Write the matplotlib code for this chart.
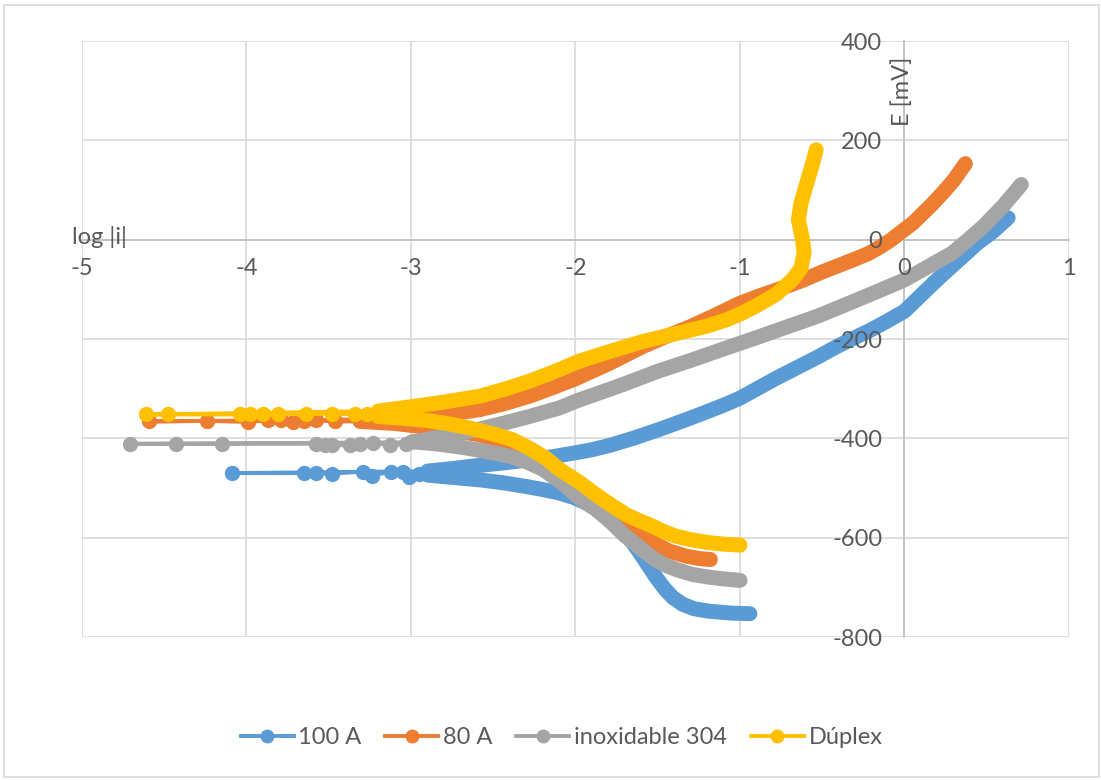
import matplotlib
matplotlib.use('Agg')
import matplotlib.pyplot as plt
from matplotlib.lines import Line2D
from matplotlib.patches import Rectangle

plt.rcParams['font.family'] = ['Lato', 'DejaVu Sans']
plt.rcParams['axes.unicode_minus'] = False

# Each polarization curve: cathodic branch (from high current back to Ecorr),
# sparse points around Ecorr, anodic branch (from Ecorr up to high current).

# 100 A
a100_cat_logi = [-0.94, -1.05, -1.19, -1.28, -1.35, -1.41, -1.46, -1.51, -1.56, -1.61, -1.66, -1.72,
                 -1.78, -1.85, -1.93, -2.01, -2.10, -2.20, -2.30, -2.43, -2.57, -2.77, -2.90]
a100_cat_E = [-753, -752, -748, -743, -734, -720, -702, -680, -655, -630, -607, -584,
              -565, -547, -531, -519, -510, -503, -497, -490, -484, -478, -474]
a100_dot_logi = [-2.95, -3.01, -3.05, -3.12, -3.24, -3.29, -3.48, -3.58, -3.65, -4.09]
a100_dot_E = [-472, -477, -468, -467, -475, -467, -471, -470, -470, -470]
a100_an_logi = [-2.90, -2.75, -2.60, -2.45, -2.30, -2.14, -2.00, -1.90, -1.79, -1.65, -1.49, -1.34,
                -1.19, -1.09, -1.00, -0.89, -0.78, -0.65, -0.52, -0.41, -0.30, -0.20, -0.10, 0.00,
                0.10, 0.21, 0.33, 0.44, 0.54, 0.63]
a100_an_E = [-466, -461, -455, -450, -444, -437, -429, -423, -414, -400, -382, -364,
             -345, -332, -319, -299, -279, -257, -235, -215, -197, -181, -163, -144,
             -112, -77, -41, -8, 17, 44]

# 80 A
a80_cat_logi = [-1.18, -1.25, -1.33, -1.43, -1.50, -1.55, -1.61, -1.67, -1.73, -1.79, -1.86, -1.94,
                -2.06, -2.18, -2.30, -2.46, -2.60, -2.75, -2.89, -3.10, -3.31]
a80_cat_E = [-644, -642, -637, -627, -615, -604, -588, -570, -553, -537, -520, -503,
             -472, -443, -420, -403, -392, -384, -378, -370, -366]
a80_dot_logi = [-3.46, -3.58, -3.65, -3.72, -3.79, -3.87, -3.99, -4.24, -4.59]
a80_dot_E = [-366, -364, -365, -368, -364, -364, -367, -365, -366]
a80_an_logi = [-3.30, -3.10, -2.89, -2.74, -2.58, -2.43, -2.28, -2.14, -2.00, -1.80, -1.59, -1.45,
               -1.30, -1.15, -1.00, -0.88, -0.75, -0.62, -0.50, -0.40, -0.30, -0.22, -0.15, -0.08,
               -0.03, 0.05, 0.17, 0.24, 0.30, 0.37]
a80_an_E = [-362, -360, -355, -350, -342, -330, -315, -298, -280, -250, -215, -195,
            -175, -152, -128, -113, -98, -82, -65, -52, -39, -28, -15, 0,
            13, 33, 72, 97, 120, 153]

# inoxidable 304
ss_cat_logi = [-1.00, -1.10, -1.20, -1.29, -1.38, -1.45, -1.52, -1.58, -1.63, -1.70, -1.79, -1.88,
               -1.95, -2.00, -2.08, -2.20, -2.30, -2.40, -2.55, -2.69, -2.85, -2.99]
ss_cat_E = [-686, -683, -679, -674, -665, -656, -643, -628, -614, -596, -567, -542,
            -527, -514, -490, -462, -447, -436, -426, -418, -411, -407]
ss_dot_logi = [-3.03, -3.13, -3.23, -3.31, -3.37, -3.48, -3.52, -3.58, -4.15, -4.43, -4.71]
ss_dot_E = [-411, -414, -409, -412, -414, -414, -413, -411, -411, -411, -411]
ss_an_logi = [-3.00, -2.90, -2.79, -2.68, -2.58, -2.43, -2.28, -2.10, -1.98, -1.85, -1.69, -1.50,
              -1.29, -1.10, -0.88, -0.70, -0.52, -0.33, -0.17, 0.00, 0.14, 0.29, 0.38, 0.48,
              0.60, 0.71]
ss_an_E = [-408, -402, -395, -388, -381, -369, -356, -339, -323, -308, -289, -265,
           -242, -220, -195, -174, -153, -127, -105, -81, -55, -27, -2, 27,
           68, 111]

# Dúplex
dx_cat_logi = [-1.00, -1.10, -1.19, -1.30, -1.39, -1.47, -1.53, -1.61, -1.69, -1.79, -1.89, -1.97,
               -2.10, -2.18, -2.28, -2.38, -2.50, -2.62, -2.75, -2.88, -3.00, -3.20]
dx_cat_E = [-615, -613, -610, -604, -597, -587, -577, -566, -554, -533, -510, -490,
            -462, -440, -420, -403, -391, -381, -372, -365, -361, -356]
dx_dot_logi = [-3.27, -3.34, -3.48, -3.64, -3.81, -3.90, -3.98, -4.04, -4.48, -4.61]
dx_dot_E = [-350, -352, -350, -352, -350, -350, -352, -352, -352, -352]
dx_an_logi = [-3.20, -2.99, -2.80, -2.58, -2.43, -2.28, -2.13, -1.98, -1.80, -1.59, -1.40, -1.20,
              -1.08, -1.00, -0.90, -0.78, -0.68, -0.63, -0.61, -0.62, -0.645, -0.63, -0.60, -0.575,
              -0.557, -0.537]
dx_an_E = [-345, -336, -327, -315, -301, -285, -266, -245, -226, -205, -190, -174,
           -161, -150, -133, -110, -80, -58, -26, 0, 40, 72, 107, 135,
           155, 181]

labels = ['100 A', '80 A', 'inoxidable 304', 'Dúplex']
colors = ['#5B9BD5', '#ED7D31', '#A5A5A5', '#FFC000']
curves = [
    (a100_cat_logi, a100_cat_E, a100_dot_logi, a100_dot_E, a100_an_logi, a100_an_E),
    (a80_cat_logi, a80_cat_E, a80_dot_logi, a80_dot_E, a80_an_logi, a80_an_E),
    (ss_cat_logi, ss_cat_E, ss_dot_logi, ss_dot_E, ss_an_logi, ss_an_E),
    (dx_cat_logi, dx_cat_E, dx_dot_logi, dx_dot_E, dx_an_logi, dx_an_E),
]

TEXT = '#595959'
FS = 17
x_ticks = list(range(-5, 2))
y_ticks = list(range(-800, 401, 200))


def draw_curve(ax, curve, color, z):
    cat_x, cat_y, dot_x, dot_y, an_x, an_y = curve
    # thin line through the widely spaced points near Ecorr
    ax.plot([cat_x[-1]] + dot_x + [an_x[0]], [cat_y[-1]] + dot_y + [an_y[0]],
            color=color, lw=2.8, zorder=z)
    ax.plot(dot_x, dot_y, 'o', color=color, ms=10, mec=color, zorder=z)
    # densely sampled stretches: markers overlap into a solid band
    for xs, ys in ((cat_x, cat_y), (an_x, an_y)):
        ax.plot(xs, ys, color=color, lw=10.8, solid_capstyle='round',
                solid_joinstyle='round', zorder=z)


fig = plt.figure(figsize=(11.01, 7.80), dpi=100)
ax = fig.add_axes([82 / 1101, 1 - 637 / 780, 987 / 1101, 596 / 780])

# gridlines kept behind the curves, tick labels drawn over them
for xv in x_ticks:
    ax.axvline(xv, color='#d9d9d9', lw=1.2, zorder=0.5)
for yv in y_ticks:
    ax.axhline(yv, color='#d9d9d9', lw=1.2, zorder=0.5)

for i, (curve, color) in enumerate(zip(curves, colors)):
    draw_curve(ax, curve, color, 3 + i)

ax.set_xlim(-5, 1)
ax.set_ylim(-800, 400)
ax.set_xticks(x_ticks)
ax.set_yticks(y_ticks)
ax.xaxis.set_zorder(20)
ax.yaxis.set_zorder(20)

# axes cross at the origin
ax.spines['left'].set_position(('data', 0))
ax.spines['bottom'].set_position(('data', 0))
for s in ('left', 'bottom'):
    ax.spines[s].set_color('#bfbfbf')
    ax.spines[s].set_linewidth(1.2)
    ax.spines[s].set_zorder(2)
ax.spines['top'].set_visible(False)
ax.spines['right'].set_visible(False)
ax.tick_params(axis='both', length=0, labelsize=FS, labelcolor=TEXT)
ax.tick_params(axis='x', pad=13)
ax.tick_params(axis='y', pad=16)

ax.text(-5.06, 6, 'log |i|', ha='left', va='center', fontsize=FS, color=TEXT,
        clip_on=False, zorder=20)
ax.text(-0.012, 298, 'E [mV]', rotation=90, ha='center', va='center', fontsize=FS,
        color=TEXT, zorder=20)

handles = [Line2D([], [], color=c, lw=2.8, marker='o', ms=9) for c in colors]
leg = fig.legend(handles, labels, loc='center', bbox_to_anchor=(0.51, 0.054), ncol=4,
                 frameon=False, fontsize=FS, handlelength=2.25, handletextpad=0.2,
                 columnspacing=1.0)
for t in leg.get_texts():
    t.set_color(TEXT)

# chart area border
fig.patches.append(Rectangle((4 / 1101, 3 / 780), 1095 / 1101, 772 / 780,
                             transform=fig.transFigure, fill=False, ec='#d9d9d9', lw=1.2))

fig.savefig('out.png', dpi=100)
